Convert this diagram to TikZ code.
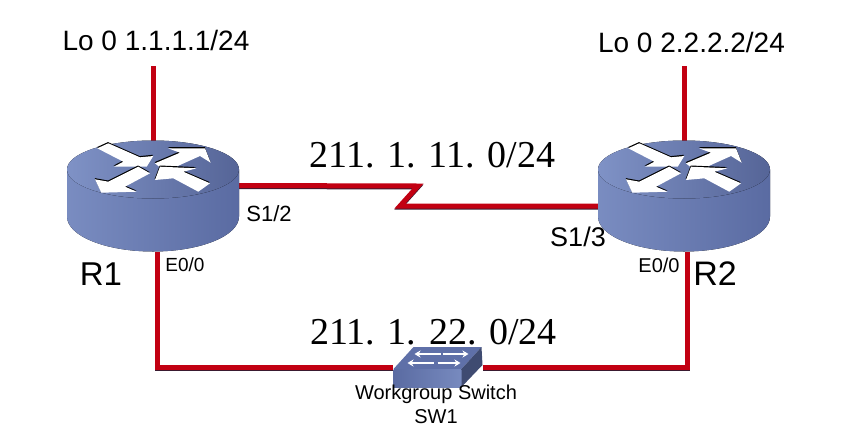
\documentclass[tikz,border=0pt]{standalone}
\usepackage{fontspec}
\setmainfont{Liberation Sans}
\newfontfamily\netfont{Liberation Serif}
\usetikzlibrary{positioning, arrows.meta, calc}

\definecolor{linkred}{HTML}{C20012}
\definecolor{linkdark}{HTML}{3A1A30}
\definecolor{bodylight}{HTML}{7F92C6}
\definecolor{bodydark}{HTML}{5A6BA2}
\definecolor{topdark}{HTML}{5F70A8}

\newcommand{\routerarrow}[1]{
	\fill[black, shift={(-0.3,-1.2)}] #1 -- cycle;
	\fill[white] #1 -- cycle;
}

\tikzset{
	link/.style={draw=linkred, line width=5pt, line join=miter,
		preaction={draw=linkdark, line width=5pt, transform canvas={yshift=-1pt}}},
	devbox/.style={inner sep=0pt, outer sep=0pt},
	routerbox/.style={devbox, minimum width=172pt, minimum height=111pt},
	switchbox/.style={devbox, minimum width=90pt, minimum height=40pt},
	tag/.style={inner sep=0pt, font=\fontsize{#1}{#1}\selectfont},
	netlabel/.style={inner sep=0pt, font=\netfont\fontsize{38}{38}\selectfont},
	swarrow/.style={white, line width=2pt, -{Stealth[length=6pt, width=7pt]}},
	pics/router/.style={code={
		\fill[left color=bodylight!85!bodydark, middle color=bodylight, right color=bodydark]
			(-86,-27) -- (-86,20) arc (180:0:86 and 35) -- (86,-27) -- cycle;
		\fill[left color=bodylight, right color=topdark!90!black] (0,-27) ellipse (86 and 29);
		\begin{scope}[shift={(0,-26.5)}]
		\routerarrow{(-55.7,-21.7) -- (-44.7,-26.7) -- (-13,-12.7) -- (0.3,-14) -- (-6.3,-3.3) -- (-39,-3.3) -- (-29.7,-8.3)}
		\routerarrow{(2,-6.7) -- (27,-17.3) -- (15,-21.7) -- (52,-21.7) -- (57.7,-7.3) -- (47,-14) -- (12,1.7)}
		\routerarrow{(-58,9.3) -- (-44.7,11.7) -- (-14.7,-3.3) -- (-3,3.3) -- (-28,16.7) -- (-16.3,21.7) -- (-51.7,22.7)}
		\routerarrow{(2,10) -- (7,-3.3) -- (43.7,-1.7) -- (30.3,1.7) -- (57,13.3) -- (45.3,21.7) -- (20.3,8.3)}
		\end{scope}
	}},
	pics/switch/.style={code={
		\fill[topdark] (-44,2) -- (-24,-20) -- (44,-20) -- (24,2) -- cycle;
		\fill[left color=bodydark, right color=bodylight!80!bodydark] (-44,2) -- (24,2) -- (24,20) -- (-44,20) -- cycle;
		\fill[bodydark!70!black] (24,2) -- (44,-20) -- (45,-2) -- (24,20) -- cycle;
		\draw[swarrow] (3,-13) -- (-23,-13);
		\draw[swarrow] (5,-13) -- (31,-13);
		\draw[swarrow] (-4,-4) -- (-30,-4);
		\draw[swarrow] (0,-4) -- (23,-4);
	}}
}

\begin{document}
\begin{tikzpicture}[x=1pt, y=-1pt]
	\useasboundingbox (0,0) rectangle (844,445);

	\node[routerbox] (r1) at (153,196.5) {};
	\node[routerbox, right=359pt of r1] (r2) {};
	\node[switchbox] (sw1) at (437.5,367) {};

	\coordinate (lo1) at (153,66);
	\coordinate (lo2) at (684,66);
	\coordinate (zig1) at (418,186);
	\coordinate (zig2) at (400,206);

	\draw[link] (r1.north) -- (lo1);
	\draw[link] (r2.north) -- (lo2);
	\draw[link] ([yshift=11pt]r1.east) -- (zig1) -- (zig2) -- ([yshift=-9.5pt]r2.west);
	\draw[link] ([xshift=4pt]r1.south) |- (sw1.west);
	\draw[link] ([xshift=3pt]r2.south) |- (sw1.east);

	\pic at (r1) {router};
	\pic at (r2) {router};
	\pic at (sw1) {switch};

	\node[tag=28] (lo1-text) at (156,40) {Lo 0 1.1.1.1/24};
	\node[tag=28] (lo2-text) at (691.5,42) {Lo 0 2.2.2.2/24};
	\node[netlabel] (net1) at (432.5,155) {211. 1. 11. 0/24};
	\node[netlabel] (net2) at (433.5,332) {211. 1. 22. 0/24};
	\node[tag=33] (r1-text) at (101,274) {R1};
	\node[tag=34] (r2-text) at (715,274) {R2};
	\node[tag=22] (s12) at (269,214) {S1/2};
	\node[tag=27] (s13) at (578,237) {S1/3};
	\node[tag=19] (e1) at (185,265) {E0/0};
	\node[tag=20] (e2) at (659,265) {E0/0};
	\node[tag=20] (sw-text) at (436,394) {Workgroup Switch};
	\node[tag=20] (sw-name) at (436,417) {SW1};
\end{tikzpicture}
\end{document}
